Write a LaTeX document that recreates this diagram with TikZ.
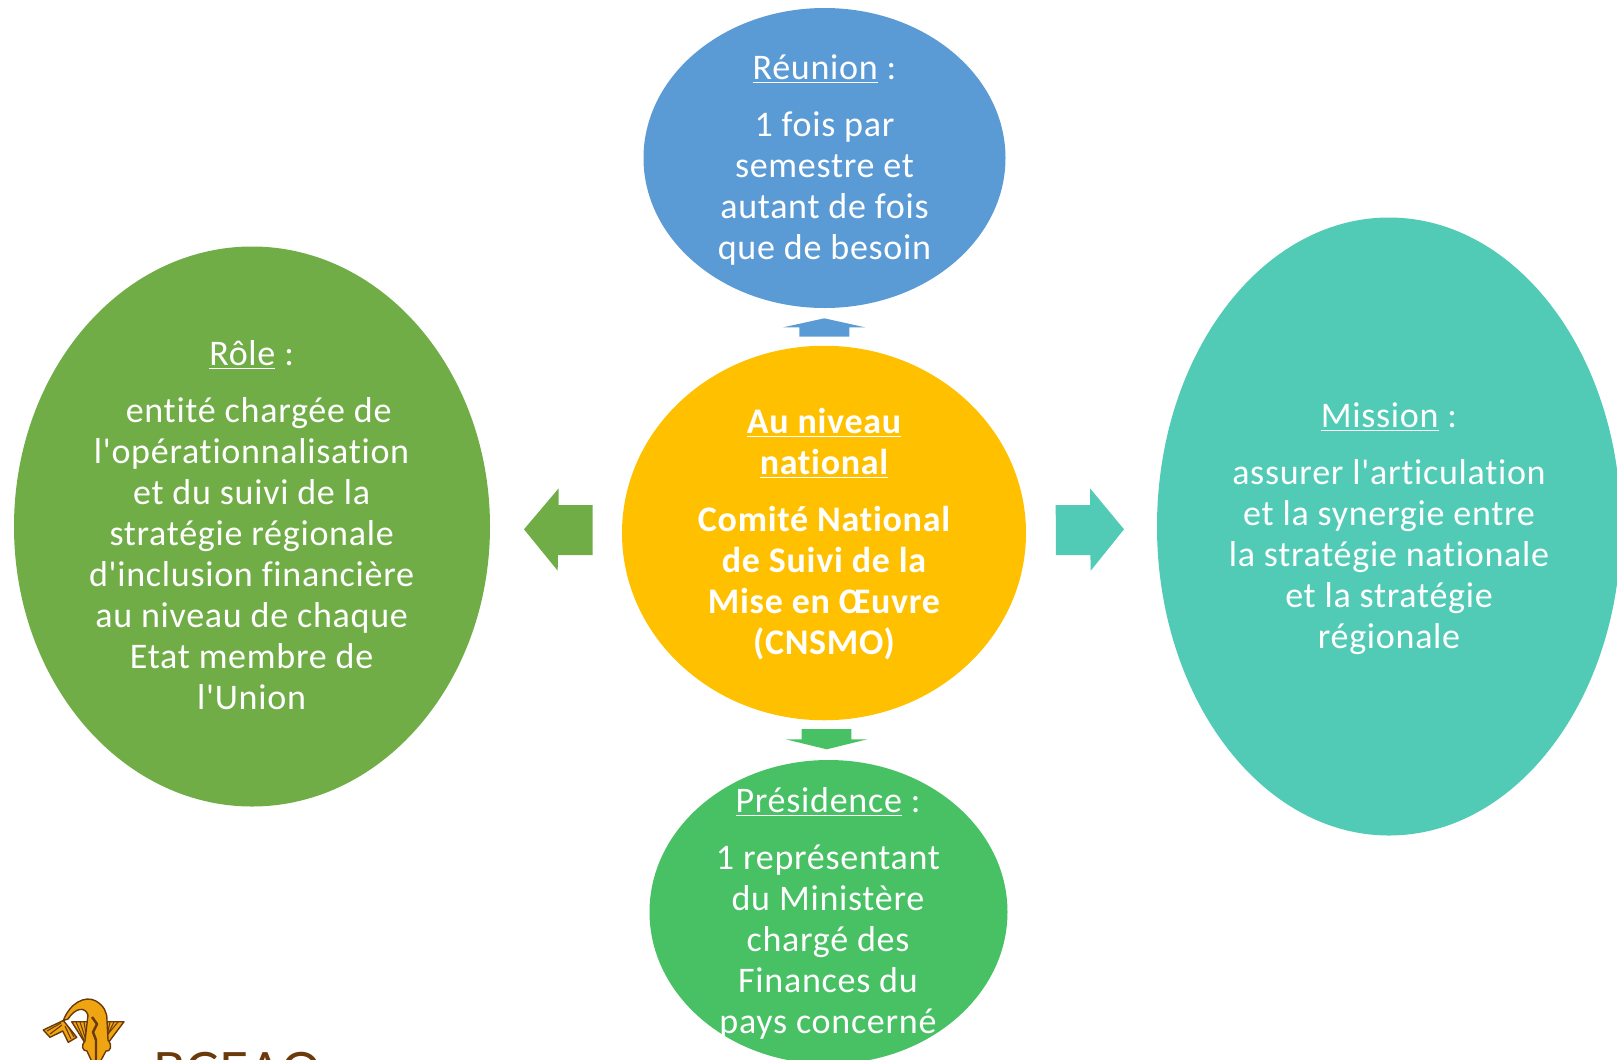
\documentclass[tikz,border=0pt]{standalone}
\usepackage{fontspec}
\setmainfont{Carlito}[Ligatures={CommonOff,TeXOff},LetterSpace=2]
\newfontfamily\logofont{Lato}
\usetikzlibrary{shapes.geometric}
\definecolor{cblue}{HTML}{5B9BD5}
\definecolor{cyellow}{HTML}{FFC000}
\definecolor{cleaf}{HTML}{70AD47}
\definecolor{cteal}{HTML}{52CBB6}
\definecolor{cgreen}{HTML}{48C064}
\definecolor{cgold}{HTML}{EFA511}
\definecolor{cbrown}{HTML}{6A3A0C}
\newcommand{\hd}[1]{\underline{#1}}
\tikzset{
  x=0.02cm,y=-0.02cm,
  bubble/.style={ellipse,inner sep=0pt,outer sep=0pt,draw=none},
  label/.style={text=white,align=center,inner sep=0pt,font=\fontsize{20.5}{23.35}\selectfont},
  blockarrow/.style={draw=none},
  logopart/.style={fill=cgold,draw=cbrown,line width=0.8pt,line join=round},
  logoline/.style={draw=cbrown,line width=0.6pt}
}
\begin{document}
\begin{tikzpicture}
\useasboundingbox (0,0) rectangle (1617,1059);
\clip (0,0) rectangle (1617,1059);
% bubbles
\node[bubble,fill=cblue,minimum width=362*0.02cm,minimum height=300*0.02cm] (meeting) at (824.5,158) {};
\node[bubble,fill=cyellow,minimum width=404*0.02cm,minimum height=374.5*0.02cm] (centre) at (824,533) {};
\node[bubble,fill=cleaf,minimum width=476*0.02cm,minimum height=560*0.02cm] (role) at (252,526.5) {};
\node[bubble,fill=cteal,minimum width=464*0.02cm,minimum height=618*0.02cm] (mission) at (1389,526.5) {};
\node[bubble,fill=cgreen,minimum width=358*0.02cm,minimum height=304*0.02cm] (chair) at (828.5,912) {};
% block arrows
\fill[blockarrow,cblue] (799.3,336.7) -- (849.3,336.7) -- (849.3,327.3) -- (865,327.3) -- (824.3,318.3) -- (783.3,327.3) -- (799.3,327.3) -- cycle;
\fill[blockarrow,cgreen] (801.7,729) -- (851.3,729) -- (851.3,739.3) -- (867.3,739.3) -- (826.7,749.3) -- (785.7,739.3) -- (801.7,739.3) -- cycle;
\fill[blockarrow,cleaf] (592.7,505) -- (592.7,555) -- (557.9,555) -- (557.7,570.7) -- (524,529.3) -- (558.7,488.3) -- (558.5,505) -- cycle;
\fill[blockarrow,cteal] (1055.7,505) -- (1055.9,555) -- (1090.4,555) -- (1090.7,570.7) -- (1124,529.3) -- (1090,488.3) -- (1090.1,505) -- cycle;
% texts
\node[label] (meetingtext) at (824.5,160) {\hd{Réunion} :\\[9pt]1 fois par\\semestre et\\autant de fois\\que de besoin};
\node[label,font=\fontsize{20.5}{23.35}\selectfont\bfseries] (centretext) at (824,534) {\hd{Au niveau}\\\hd{national}\\[9pt]Comité National\\de Suivi de la\\Mise en Œuvre\\(CNSMO)};
\node[label] (roletext) at (251.6,525.3) {\hd{Rôle} :\\[9pt]\hspace*{8pt}entité chargée de\\l'opérationnalisation\\et du suivi de la\\stratégie régionale\\d'inclusion financière\\au niveau de chaque\\Etat membre de\\l'Union};
\node[label] (missiontext) at (1389,529) {\hd{Mission} :\\[9pt]assurer l'articulation\\et la synergie entre\\la stratégie nationale\\et la stratégie\\régionale};
\node[label] (chairtext) at (828,913.3) {\hd{Présidence} :\\[9pt]1 représentant\\du Ministère\\chargé des\\Finances du\\pays concerné};
% logo
\draw[logopart] (71.7,1021.7) -- (124,1021.7) -- (108,1043) -- (85,1043) -- cycle;
\foreach \tx/\bx in {76/84,80/86,84/87,110/106,114/105,118/103}{\draw[logoline] (\tx,1022) -- (\bx,1040);}
\draw[logopart] (63.3,1020.5) -- (43.3,1030) -- (50,1037.3) -- (62.7,1031) -- (68.3,1042.3) -- (76.7,1037.3) -- cycle;
\draw[logoline] (61,1023) -- (47,1031) (62,1025) -- (50,1034) (65,1026) -- (71,1039) (68,1026) -- (74,1037);
\draw[logopart] (63.3,1020.5) .. controls (70,1003) and (85,995) .. (96,1001) .. controls (104,1006) and (107,1012) .. (107,1020) -- (108,1040) .. controls (113,1046) and (110,1052) .. (106,1051) -- (100,1062) -- (92,1062) -- (87,1051) .. controls (82,1051) and (81,1045) .. (85,1041) -- (88,1015) .. controls (85,1006) and (75,1008) .. (68,1019) -- cycle;
\draw[cbrown,line width=1.4pt,line join=round] (92,1017) -- (97,1024) -- (93,1032) -- (96,1040) -- (96,1060);
\node[anchor=base west,inner sep=0pt,text=cbrown,font=\logofont\fontsize{28.5}{29}\selectfont] (bank) at (153,1088) {BCEAO};
\end{tikzpicture}
\end{document}
